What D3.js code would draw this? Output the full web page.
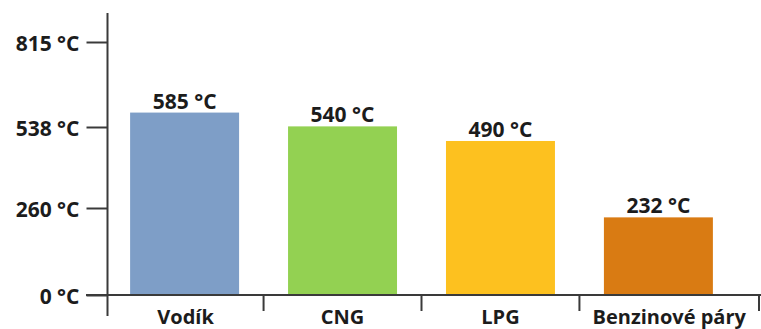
<!DOCTYPE html>
<html>
<head>
<meta charset="utf-8">
<script src="https://cdn.jsdelivr.net/npm/d3@7"></script>
<style>
  html, body { margin: 0; padding: 0; background: #ffffff; }
  svg { display: block; }
  text { font-family: "Open Sans", Lato, sans-serif; font-weight: 700; fill: #1c1c1c; }
</style>
</head>
<body>
<svg id="chart" width="761" height="329"></svg>
<script>
// Zápalná teplota paliv
const categories = ["Vodík", "CNG", "LPG", "Benzinové páry"];
const values = [585, 540, 490, 232];
const colors = ["#7e9ec7", "#93d152", "#fdc11f", "#d97b13"];
const tickValues = [0, 260, 538, 815];
const tickPositions = [295, 208, 127, 42];

const svg = d3.select("#chart");
const W = 761;
const axisX = 107.5;
const baseY = 295;

// Osa Y má nestejnoměrné rozestupy, proto po částech lineární měřítko
const y = d3.scaleLinear().domain(tickValues).range(tickPositions);

const x = d3.scaleBand()
  .domain(categories)
  .range([108, 735])
  .paddingInner(0.31)
  .paddingOuter(0.14);

// Dělicí čárky kategorií: mezi sloupci a na konci osy
const dividers = [axisX];
categories.forEach((c, i) => {
  if (i < categories.length - 1) {
    const next = categories[i + 1];
    dividers.push((x(c) + x.bandwidth() + x(next)) / 2);
  } else {
    dividers.push(W - 2);
  }
});

const ink = "#3a3a3a";

// Sloupce
svg.append("g")
  .selectAll("rect")
  .data(categories)
  .join("rect")
  .attr("x", d => x(d))
  .attr("y", (d, i) => y(values[i]))
  .attr("width", x.bandwidth())
  .attr("height", (d, i) => baseY - y(values[i]))
  .attr("fill", (d, i) => colors[i]);

// Hodnoty nad sloupci
svg.append("g")
  .selectAll("text")
  .data(categories)
  .join("text")
  .attr("x", d => x(d) + x.bandwidth() / 2)
  .attr("y", (d, i) => y(values[i]) - 4)
  .attr("text-anchor", "middle")
  .attr("font-size", 21)
  .text((d, i) => `${values[i]} °C`);

// Osa Y
const yAxis = d3.axisLeft(y)
  .tickValues(tickValues)
  .tickSize(21)
  .tickPadding(7)
  .tickFormat(d => `${d} °C`);

const gy = svg.append("g")
  .attr("transform", `translate(${axisX},0)`)
  .call(yAxis);
gy.select(".domain").remove();
gy.selectAll(".tick line").attr("stroke", ink).attr("stroke-width", 2);
gy.selectAll(".tick text")
  .attr("font-size", 21)
  .attr("dy", "0.4em")
  .attr("font-family", null)
  .attr("fill", null);

svg.append("line")
  .attr("x1", axisX).attr("x2", axisX)
  .attr("y1", 13).attr("y2", 316)
  .attr("stroke", ink).attr("stroke-width", 2);

// Osa X
svg.append("line")
  .attr("x1", 86).attr("x2", W)
  .attr("y1", baseY).attr("y2", baseY)
  .attr("stroke", ink).attr("stroke-width", 2);

svg.append("g")
  .selectAll("line")
  .data(dividers.slice(1))
  .join("line")
  .attr("x1", d => d).attr("x2", d => d)
  .attr("y1", baseY).attr("y2", 311)
  .attr("stroke", ink).attr("stroke-width", 2);

// Popisky kategorií, vystředěné mezi dělicími čárkami
svg.append("g")
  .selectAll("text")
  .data(categories)
  .join("text")
  .attr("x", (d, i) => (dividers[i] + dividers[i + 1]) / 2)
  .attr("y", 324)
  .attr("text-anchor", "middle")
  .attr("font-size", 20)
  .text(d => d);
</script>
</body>
</html>
